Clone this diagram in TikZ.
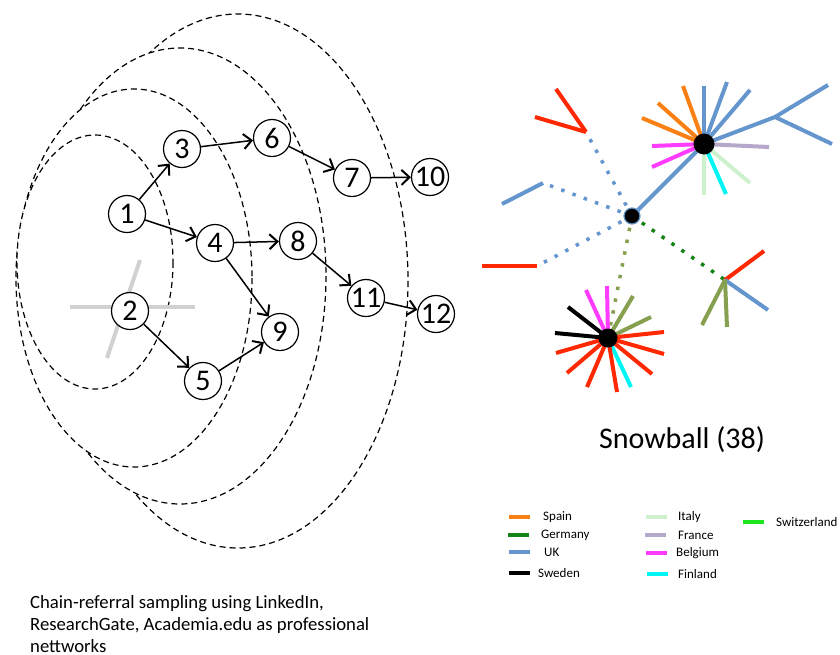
\documentclass[tikz,border=0pt]{standalone}
\usepackage{fontspec}
\setmainfont{Carlito}
\usetikzlibrary{arrows.meta}
\usetikzlibrary{positioning}
\usetikzlibrary{calc}
\definecolor{spainorange}{RGB}{250,128,20}
\definecolor{germanygreen}{RGB}{20,130,20}
\definecolor{ukblue}{RGB}{100,150,205}
\definecolor{swedenblack}{RGB}{0,0,0}
\definecolor{italygreen}{RGB}{205,240,205}
\definecolor{francepurple}{RGB}{182,168,202}
\definecolor{belgiummagenta}{RGB}{255,60,255}
\definecolor{finlandcyan}{RGB}{0,245,245}
\definecolor{swissgreen}{RGB}{30,230,30}
\definecolor{redline}{RGB}{255,40,0}
\definecolor{olivegreen}{RGB}{135,160,80}
\tikzset{
  num/.style={circle, draw, fill=white, line width=1.2pt, minimum size=37pt, inner sep=0pt, font=\fontsize{30}{30}\selectfont},
  ring/.style={draw, fill=white, line width=1.2pt, dash pattern=on 6pt off 4pt},
  refer/.style={-{Straight Barb[length=8pt,width=15pt,line width=2pt]}, line width=1.5pt},
  faded/.style={line width=4pt, black!18},
  spoke/.style={line width=4pt},
  link/.style={line width=3.5pt, dash pattern=on 3.5pt off 8.5pt},
  hub/.style={circle, fill=black, inner sep=0pt},
  key/.style={line width=4pt}
}

\begin{document}
\begin{tikzpicture}[x=1pt, y=-1pt]
\useasboundingbox (0,0) rectangle (840,654);

% referral waves, outermost first
\draw[ring] (238,281) ellipse [x radius=170, y radius=267];
\draw[ring] (180,276) ellipse [x radius=146, y radius=228];
\draw[ring] (134,278) ellipse [x radius=118, y radius=189];
\draw[ring] (95,262) ellipse [x radius=78, y radius=127];

% faded cross behind seed 2
\draw[faded] (70,307) -- (195,307);
\draw[faded] (140,260) -- (107,358);

% seeds and referrals
\node[num] (n1) at (127,214) {1};
\node[num] (n2) at (130,311) {2};
\node[num] (n3) at (182,149) {3};
\node[num] (n4) at (215,243) {4};
\node[num] (n5) at (203,381) {5};
\node[num] (n6) at (272,138) {6};
\node[num] (n7) at (352,178) {7};
\node[num] (n8) at (298,241) {8};
\node[num] (n9) at (280,332) {9};
\node[num] (n10) at (430,177) {10};
\node[num] (n11) at (366,298) {11};
\node[num] (n12) at (436,314) {12};

\draw[refer] (n1) -- (n3);
\draw[refer] (n1) -- (n4);
\draw[refer] (n2) -- (n5);
\draw[refer] (n3) -- (n6);
\draw[refer] (n6) -- (n7);
\draw[refer] (n7) -- (n10);
\draw[refer] (n4) -- (n8);
\draw[refer] (n4) -- (n9);
\draw[refer] (n5) -- (n9);
\draw[refer] (n8) -- (n11);
\draw[refer] (n11) -- (n12);

\node[anchor=north west, align=left, inner sep=0pt, font=\fontsize{18.7}{22}\selectfont] (caption) at (30,595)
  {Chain-referral sampling using LinkedIn,\\ResearchGate, Academia.edu as professional\\nettworks};

%%% snowball network
\coordinate (hubA) at (632,216);
\coordinate (hubB) at (704,144);
\coordinate (hubC) at (608,338);
\coordinate (fork) at (775,117);
\coordinate (vee) at (586,132);
\coordinate (tail) at (543,183);
\coordinate (stub) at (537,266);
\coordinate (claw) at (725,280);

% dotted ties
\draw[link, ukblue] (hubA) -- (vee);
\draw[link, ukblue] (hubA) -- (tail);
\draw[link, ukblue] (hubA) -- (stub);
\draw[link, olivegreen] (hubA) -- (hubC);
\draw[link, germanygreen] (hubA) -- (claw);

% loose ends
\draw[spoke, redline] (vee) -- ++(-30,-43);
\draw[spoke, redline] (vee) -- ++(-51,-15);
\draw[spoke, ukblue] (tail) -- ++(-41,21);
\draw[spoke, redline] (stub) -- ++(-55,0);
\draw[spoke, redline] (claw) -- ++(39,-29);
\draw[spoke, ukblue] (claw) -- ++(43,30);
\draw[spoke, olivegreen] (claw) -- ++(-23,45);
\draw[spoke, olivegreen] (claw) -- ++(2,47);

% upper star
\draw[spoke, ukblue] (hubA) -- (hubB);
\draw[spoke, ukblue] (hubB) -- (fork) -- ++(53,-32);
\draw[spoke, ukblue] (fork) -- ++(57,27);
\foreach \col/\dx/\dy in {spainorange/-62/-26, spainorange/-46/-41, spainorange/-21/-58,
    ukblue/0/-58, ukblue/23/-62, ukblue/46/-54, francepurple/65/3, italygreen/46/39,
    finlandcyan/22/50, italygreen/0/51, belgiummagenta/-52/2, belgiummagenta/-52/23}
  \draw[spoke, color=\col] (hubB) -- ++(\dx,\dy);

% lower star
\foreach \col/\dx/\dy in {belgiummagenta/-22/-48, belgiummagenta/-1/-52, olivegreen/25/-42,
    olivegreen/43/-21, redline/56/-6, redline/56/16, redline/44/36, finlandcyan/23/49,
    redline/9/54, redline/-21/49, redline/-41/35, redline/-52/15, swedenblack/-53/-5, swedenblack/-40/-31}
  \draw[spoke, color=\col] (hubC) -- ++(\dx,\dy);

\node[hub, minimum size=21pt] (hubBdot) at (hubB) {};
\node[hub, minimum size=19pt] (hubCdot) at (hubC) {};
\node[hub, minimum size=16pt, draw=ukblue, line width=1.2pt] (hubAdot) at (hubA) {};

\node[font=\fontsize{30}{30}\selectfont] (title) at (682,440) {Snowball (38)};

% legend
\foreach \col/\name/\lx/\tx/\y in {spainorange/Spain/509/543/517, germanygreen/Germany/508/541/535,
    ukblue/UK/509/544/552, swedenblack/Sweden/509/538/573, italygreen/Italy/646/678/517,
    francepurple/France/645/678/535, belgiummagenta/Belgium/646/676/553, finlandcyan/Finland/647/678/574,
    swissgreen/Switzerland/743/776/522}
{
  \draw[key, color=\col] (\lx,\y) -- ++(21,0);
  \node[anchor=west, inner sep=0pt, font=\fontsize{13}{13}\selectfont] (key\name) at (\tx,\y) {\name};
}

\end{tikzpicture}
\end{document}
